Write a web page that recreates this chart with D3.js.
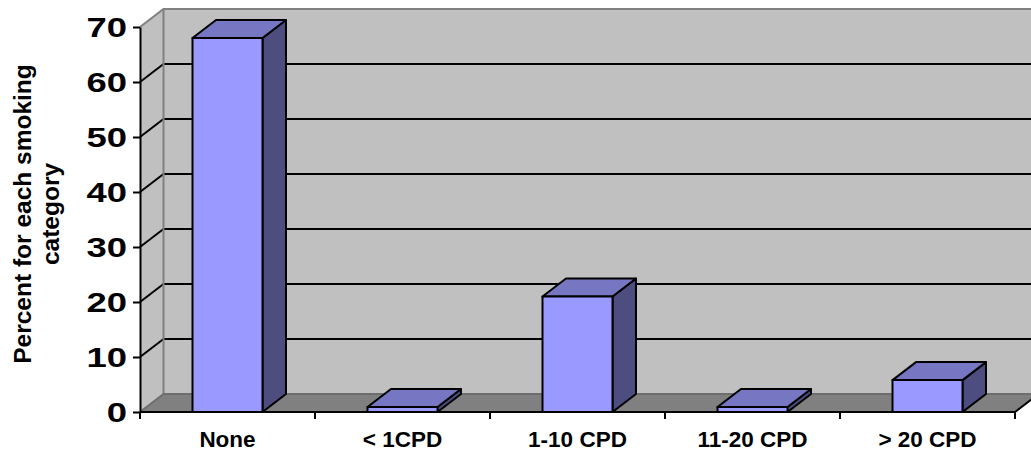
<!DOCTYPE html>
<html>
<head>
<meta charset="utf-8">
<script src="https://cdn.jsdelivr.net/npm/d3@7"></script>
<style>
  html, body { margin: 0; padding: 0; background: #ffffff; }
  svg { display: block; }
  text { font-family: Arial, "Liberation Sans", sans-serif; font-weight: bold; fill: #000; }
</style>
</head>
<body>
<svg id="chart" width="1031" height="452"></svg>
<script>
// Share of respondents in each smoking category (cigarettes per day)
const categories = ["None", "< 1CPD", "1-10 CPD", "11-20 CPD", "> 20 CPD"];
const percents   = [68, 0.9, 21, 0.9, 5.8];
const yTicks     = [0, 10, 20, 30, 40, 50, 60, 70];
const yTitle     = ["Percent for each smoking", "category"];

const svg = d3.select("#chart");

// plot frame (front plane) and 3-D depth offset
const plotLeft = 140, plotRight = 1015, plotBottom = 412, plotTop = 27;
const dx = 23.5, dy = -18;

const x = d3.scaleBand().domain(categories).range([plotLeft, plotRight]).paddingInner(0).paddingOuter(0);
const y = d3.scaleLinear().domain([0, 70]).range([plotBottom, plotTop]);
const barW = x.bandwidth() * 0.4;

const pts = a => a.map(p => p.join(",")).join(" ");

// back wall
svg.append("polygon")
  .attr("points", pts([[plotLeft + dx, y(70) + dy], [plotRight + dx, y(70) + dy], [plotRight + dx, y(0) + dy], [plotLeft + dx, y(0) + dy]]))
  .attr("fill", "#c0c0c0");
// side wall
svg.append("polygon")
  .attr("points", pts([[plotLeft, y(70)], [plotLeft + dx, y(70) + dy], [plotLeft + dx, y(0) + dy], [plotLeft, y(0)]]))
  .attr("fill", "#c0c0c0");
// floor
svg.append("polygon")
  .attr("points", pts([[plotLeft, y(0)], [plotRight, y(0)], [plotRight + dx, y(0) + dy], [plotLeft + dx, y(0) + dy]]))
  .attr("fill", "#808080");

// gridlines on back and side walls
const inner = yTicks.filter(t => t > 0 && t < 70);
const grid = svg.append("g");
grid.selectAll("line.back").data(inner).join("line").attr("class", "back")
  .attr("x1", plotLeft + dx).attr("x2", plotRight + dx)
  .attr("y1", d => y(d) + dy).attr("y2", d => y(d) + dy)
  .attr("stroke", "#000").attr("stroke-width", 2);
grid.selectAll("line.side").data(inner).join("line").attr("class", "side")
  .attr("x1", plotLeft).attr("x2", plotLeft + dx)
  .attr("y1", d => y(d)).attr("y2", d => y(d) + dy)
  .attr("stroke", "#000").attr("stroke-width", 2);

// wall edges
const edges = svg.append("g").attr("stroke", "#808080").attr("stroke-width", 2).attr("fill", "none");
edges.append("polyline").attr("points", pts([[plotLeft, y(70)], [plotLeft + dx, y(70) + dy], [plotRight + dx, y(70) + dy]]));
edges.append("line").attr("x1", plotLeft + dx).attr("x2", plotLeft + dx).attr("y1", y(70) + dy).attr("y2", y(0) + dy);
edges.append("polyline").attr("points", pts([[plotLeft, y(0)], [plotLeft + dx, y(0) + dy], [plotRight + dx, y(0) + dy]]))
  .attr("stroke", "#6e6e6e");

// 3-D columns
const bars = svg.append("g").attr("stroke", "#000").attr("stroke-width", 2).attr("stroke-linejoin", "round");
categories.forEach((c, i) => {
  const x0 = x(c) + (x.bandwidth() - barW) / 2, x1 = x0 + barW;
  const y0 = y(0), y1 = y(percents[i]);
  bars.append("polygon").attr("fill", "#4d4d80")
    .attr("points", pts([[x1, y1], [x1 + dx, y1 + dy], [x1 + dx, y0 + dy], [x1, y0]]));
  bars.append("polygon").attr("fill", "#7676c2")
    .attr("points", pts([[x0, y1], [x0 + dx, y1 + dy], [x1 + dx, y1 + dy], [x1, y1]]));
  bars.append("rect").attr("fill", "#9999ff")
    .attr("x", x0).attr("y", y1).attr("width", barW).attr("height", y0 - y1);
});

// value axis
const yAxis = svg.append("g").attr("transform", `translate(${plotLeft},0)`)
  .call(d3.axisLeft(y).tickValues(yTicks).tickSize(7).tickSizeOuter(0));
yAxis.select(".domain").attr("stroke", "#000").attr("stroke-width", 2);
yAxis.selectAll(".tick line").attr("stroke", "#000").attr("stroke-width", 2);
yAxis.selectAll(".tick text")
  .attr("font-size", 27).attr("font-family", null).attr("dy", "0.36em")
  .attr("x", 0).attr("transform", "translate(-13,0) scale(1.35,1)");

// category axis
const xg = svg.append("g");
xg.append("line").attr("x1", plotLeft).attr("x2", plotRight).attr("y1", plotBottom).attr("y2", plotBottom)
  .attr("stroke", "#000").attr("stroke-width", 2);
const bounds = categories.map(c => x(c)).concat([plotRight]);
xg.selectAll("line.tk").data(bounds).join("line").attr("class", "tk")
  .attr("x1", d => d).attr("x2", d => d).attr("y1", plotBottom).attr("y2", plotBottom + 7)
  .attr("stroke", "#000").attr("stroke-width", 2);
xg.append("line").attr("x1", plotRight).attr("x2", plotRight + dx).attr("y1", plotBottom).attr("y2", plotBottom + dy)
  .attr("stroke", "#000").attr("stroke-width", 2);
xg.selectAll("text").data(categories).join("text")
  .attr("x", d => x(d) + x.bandwidth() / 2).attr("y", 447)
  .attr("text-anchor", "middle").attr("font-size", 22.5).text(d => d);

// value axis title
const tt = svg.append("text").attr("transform", `translate(31,214) rotate(-90)`)
  .attr("text-anchor", "middle").attr("font-size", 24.5);
tt.selectAll("tspan").data(yTitle).join("tspan")
  .attr("x", 0).attr("dy", (d, i) => i === 0 ? 0 : 28).text(d => d);
</script>
</body>
</html>
